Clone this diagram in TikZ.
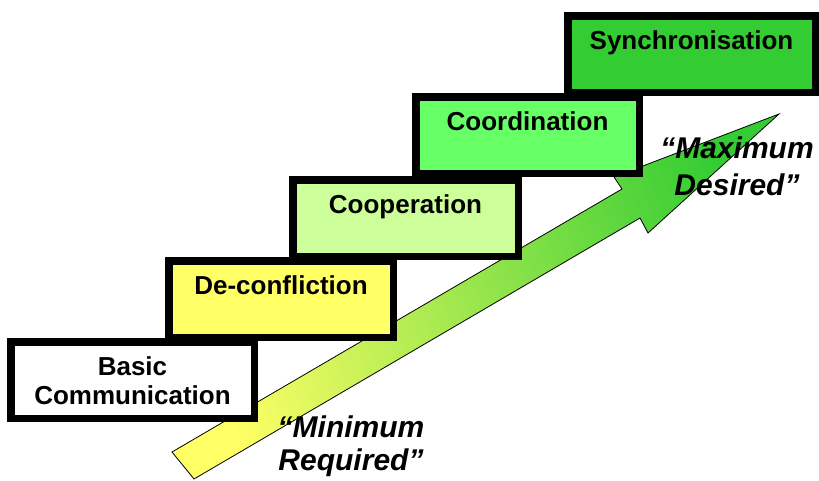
\documentclass[tikz,border=0pt]{standalone}
\usepackage{fontspec}
\setmainfont{Liberation Sans}
\usepackage{tikz}
\usepackage{color}

\definecolor{deconf}{HTML}{FFFF66}
\definecolor{coop}{HTML}{CCFF99}
\definecolor{coord}{HTML}{66FF66}
\definecolor{sync}{HTML}{33CC33}

\tikzset{
  stepbox/.style={draw, line width=7.5pt, inner sep=0pt, anchor=north west, minimum height=76.5pt},
  steptext/.style={anchor=base, align=center, font=\fontsize{26}{29}\selectfont\bfseries},
  quotetext/.style={anchor=base, align=center, font=\fontsize{30}{33}\selectfont\bfseries\itshape}
}

\begin{document}
\begin{tikzpicture}[x=1pt,y=-1pt]
\useasboundingbox (0,0) rectangle (819,480);

\draw[line width=0.8pt, left color=deconf, right color=sync, shading angle=109]
  (172,452) -- (622,189) -- (614,177) -- (779,114) -- (648,233) -- (640,218) -- (194,479) -- cycle;

\node[stepbox, minimum width=247.5pt, fill=sync] (sync) at (564,12) {};
\node[stepbox, minimum width=223.5pt, fill=coord] (coord) at (412,93) {};
\node[stepbox, minimum width=225.5pt, fill=coop] (coop) at (289,176) {};
\node[stepbox, minimum width=224.5pt, fill=deconf] (deconf) at (165,257) {};
\node[stepbox, minimum width=243.5pt, fill=white] (basic) at (7,338) {};

\node[steptext] (syncText) at ([yshift=-37pt]sync.north) {Synchronisation};
\node[steptext] (coordText) at ([yshift=-37pt]coord.north) {Coordination};
\node[steptext] (coopText) at ([yshift=-37pt]coop.north) {Cooperation};
\node[steptext] (deconfText) at ([yshift=-37pt]deconf.north) {De-confliction};
\node[steptext] (basicText) at ([yshift=-66pt]basic.north) {Basic\\Communication};

\node[quotetext] (maxText) at (737,195) {“Maximum\\[4pt]Desired”};
\node[quotetext] (minText) at (351,470) {“Minimum\\Required”};
\end{tikzpicture}
\end{document}
